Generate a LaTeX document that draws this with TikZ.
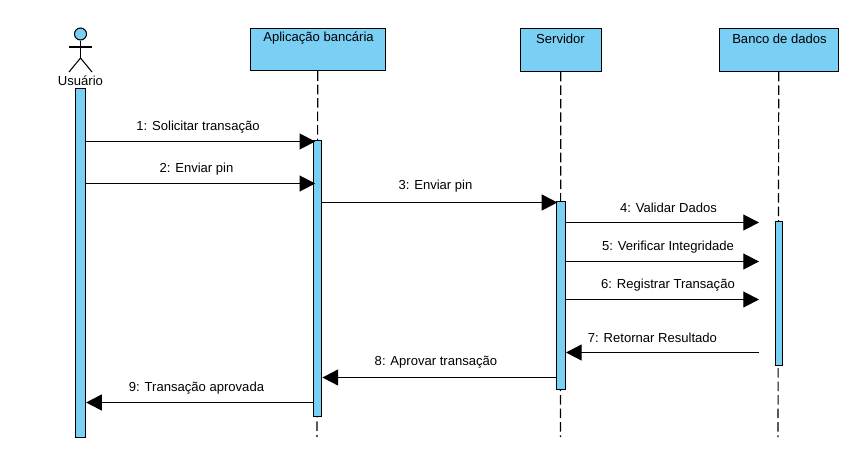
\documentclass[tikz,border=0pt]{standalone}
\usepackage{fontspec}
\setmainfont{Liberation Sans}
\usetikzlibrary{arrows.meta}
\definecolor{umlblue}{RGB}{122,207,245}
\tikzset{
  x=0.75pt,y=-0.75pt,
  headbox/.style={draw=black,fill=umlblue,line width=0.9pt,inner sep=0pt,anchor=north west},
  headlabel/.style={inner sep=0pt,font=\fontsize{9.8}{11}\selectfont},
  actbox/.style={draw=black,fill=umlblue,line width=0.8pt,inner sep=0pt,minimum width=6.6pt,anchor=north},
  lifeline/.style={draw=black,line width=0.85pt,dash pattern=on 7.2pt off 2.9pt},
  msg/.style={draw=black,line width=0.85pt,-{Triangle[length=11.8pt,width=12pt]}},
  msglabel/.style={inner sep=0pt,font=\fontsize{9.8}{11}\selectfont},
  figure/.style={draw=black,line width=0.8pt},
}
\begin{document}
\begin{tikzpicture}
\path[use as bounding box,fill=white] (0,0) rectangle (865,472);

% lifeline heads
\node[headbox,minimum width=101.5pt,minimum height=31.5pt] (app) at (249.5,28) {};
\node[headlabel] (appt) at (318.5,38.5) {Aplicação bancária};
\node[headbox,minimum width=61pt,minimum height=32pt] (srv) at (519.5,28) {};
\node[headlabel] (srvt) at (560.5,38.5) {Servidor};
\node[headbox,minimum width=89.5pt,minimum height=32pt] (bd) at (718.5,28) {};
\node[headlabel] (bdt) at (779.5,38.5) {Banco de dados};

% lifeline ends
\coordinate (append) at (317,437);
\coordinate (srvend) at (560.5,437);
\coordinate (bdend) at (778,437);
\draw[lifeline] (app.south) -- (append);
\draw[lifeline] (srv.south) -- (srvend);
\draw[lifeline] (bd.south) -- (bdend);

% actor
\node[circle,draw=black,fill=umlblue,line width=0.8pt,minimum size=9pt,inner sep=0pt] (head) at (80.5,34) {};
\coordinate (neck) at (80.5,47);
\coordinate (armL) at (69,47);
\coordinate (armR) at (92,47);
\coordinate (hip) at (80.5,58);
\coordinate (legL) at (69,72);
\coordinate (legR) at (92,72);
\draw[figure] (head.south) -- (hip);
\draw[figure] (armL) -- (armR);
\draw[figure] (legL) -- (hip) -- (legR);
\node[msglabel] (usr) at (80.5,80.5) {Usuário};

% activations
\node[actbox,minimum width=7.6pt,minimum height=262pt] (uact) at (80.5,88) {};
\node[actbox,minimum height=207pt] (aact) at (317.5,140) {};
\node[actbox,minimum height=141pt] (sact) at (561,201) {};
\node[actbox,minimum width=5.6pt,minimum height=108pt] (bact) at (779,221) {};

% message rows and free ends
\coordinate (m1) at (0,141.5);
\coordinate (m2) at (0,183.5);
\coordinate (m3) at (0,202.5);
\coordinate (m4) at (0,222.5);
\coordinate (m5) at (0,261.5);
\coordinate (m6) at (0,299.5);
\coordinate (m7) at (0,352.5);
\coordinate (m8) at (0,377.5);
\coordinate (m9) at (0,402.5);
\coordinate (free) at (759,0);

\draw[msg,shorten >=-2pt] (uact.east |- m1) -- (aact.west |- m1);
\draw[msg,shorten >=-2pt] (uact.east |- m2) -- (aact.west |- m2);
\draw[msg,shorten >=-1pt] (aact.east |- m3) -- (sact.west |- m3);
\draw[msg] (sact.east |- m4) -- (free |- m4);
\draw[msg] (sact.east |- m5) -- (free |- m5);
\draw[msg] (sact.east |- m6) -- (free |- m6);
\draw[msg] (free |- m7) -- (sact.east |- m7);
\draw[msg] (sact.west |- m8) -- (aact.east |- m8);
\draw[msg] (aact.west |- m9) -- (uact.east |- m9);

% message labels
\node[msglabel] (l1) at (198,127) {1: Solicitar transação};
\node[msglabel] (l2) at (196.5,169.5) {2: Enviar pin};
\node[msglabel] (l3) at (435.5,186.5) {3: Enviar pin};
\node[msglabel] (l4) at (668.5,208) {4: Validar Dados};
\node[msglabel] (l5) at (668,247) {5: Verificar Integridade};
\node[msglabel] (l6) at (668,285) {6: Registrar Transação};
\node[msglabel] (l7) at (652.5,338) {7: Retornar Resultado};
\node[msglabel] (l8) at (436,362.5) {8: Aprovar transação};
\node[msglabel] (l9) at (196.5,388) {9: Transação aprovada};
\end{tikzpicture}
\end{document}
